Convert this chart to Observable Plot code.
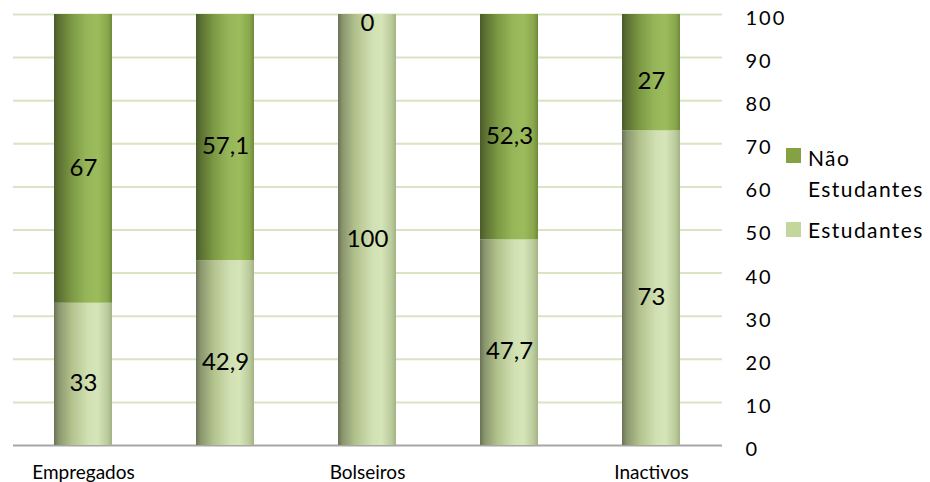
<!DOCTYPE html>
<html><head><meta charset="utf-8">
<script src="https://cdn.jsdelivr.net/npm/d3@7"></script>
<script src="https://cdn.jsdelivr.net/npm/@observablehq/plot@0.6"></script>
<style>
body{margin:0;background:#fff;font-family:Lato, sans-serif}
#wrap{position:relative;width:930px;height:482px;overflow:hidden}
.sw{position:absolute;width:15px;height:15px}
.lt{position:absolute;font-size:21px;line-height:31px;color:#000;white-space:nowrap;letter-spacing:1.4px}
</style></head>
<body><div id="wrap"></div>
<script>
const categories = ["Empregados", "Desempregados", "Bolseiros", "Reformados", "Inactivos"];
const shownTicks = ["Empregados", "Bolseiros", "Inactivos"];
const series = ["Estudantes", "Não Estudantes"];
const estudantes = [33, 42.9, 100, 47.7, 73];
const naoEstudantes = [67, 57.1, 0, 52.3, 27];
const yTicks = [0, 10, 20, 30, 40, 50, 60, 70, 80, 90, 100];

const data = [
  ...categories.map((c, i) => ({cat: c, serie: series[0], value: estudantes[i]})),
  ...categories.map((c, i) => ({cat: c, serie: series[1], value: naoEstudantes[i]}))
];
const fmt = v => String(v).replace(".", ",");

const chart = Plot.plot({
  width: 930, height: 482,
  marginLeft: 13, marginRight: 208, marginTop: 14, marginBottom: 37,
  style: {fontFamily: "Lato, sans-serif", background: "#fff", color: "#000"},
  x: {domain: categories, paddingInner: 0.59, paddingOuter: 0.29, label: null},
  y: {domain: [0, 100], label: null},
  color: {domain: series, range: ["url(#gLight)", "url(#gDark)"]},
  marks: [
    Plot.ruleY(yTicks.filter(d => d > 0), {y: d => d, stroke: "#d9e4c3", strokeWidth: 2}),
    Plot.ruleY([0], {stroke: "#a6a6a6", strokeWidth: 2}),
    Plot.barY(data, Plot.stackY({x: "cat", y: "value", fill: "serie", order: series})),
    Plot.text(data, Plot.stackY({x: "cat", y: "value", z: "serie", order: series,
      text: d => fmt(d.value), fontSize: 24, fill: "#000", dy: 9})),
    Plot.axisX({ticks: shownTicks, tickSize: 0, tickPadding: 20, fontSize: 19, label: null}),
    Plot.axisY({anchor: "right", ticks: yTicks, tickSize: 0, tickPadding: 23, fontSize: 20, dy: 4, label: null})
  ]
});

chart.querySelectorAll('[aria-label="y-axis tick label"] text').forEach(t => t.style.letterSpacing = "2px");

const ns = "http://www.w3.org/2000/svg";
const defs = document.createElementNS(ns, "defs");
defs.innerHTML = `
<linearGradient id="gDark" x1="0" y1="0" x2="1" y2="0">
  <stop offset="0" stop-color="#4b5a2c"/>
  <stop offset="0.08" stop-color="#5b6f32"/>
  <stop offset="0.3" stop-color="#7b9843"/>
  <stop offset="0.55" stop-color="#96b559"/>
  <stop offset="0.75" stop-color="#9cbc5c"/>
  <stop offset="0.92" stop-color="#8aa84c"/>
  <stop offset="1" stop-color="#6f8a3b"/>
</linearGradient>
<linearGradient id="gLight" x1="0" y1="0" x2="1" y2="0">
  <stop offset="0" stop-color="#6a7158"/>
  <stop offset="0.08" stop-color="#8a966d"/>
  <stop offset="0.3" stop-color="#b2c28d"/>
  <stop offset="0.6" stop-color="#d2e1b3"/>
  <stop offset="0.75" stop-color="#d6e5b8"/>
  <stop offset="0.92" stop-color="#bccb9c"/>
  <stop offset="1" stop-color="#a3b283"/>
</linearGradient>`;
chart.insertBefore(defs, chart.firstChild);

const wrap = document.getElementById("wrap");
wrap.appendChild(chart);

function add(html, cls, left, top) {
  const el = document.createElement("div");
  el.className = cls;
  el.style.left = left + "px";
  el.style.top = top + "px";
  el.innerHTML = html;
  wrap.appendChild(el);
  return el;
}
add("", "sw", 786, 148).style.background = "#84a244";
add("Não<br>Estudantes", "lt", 808, 142);
add("", "sw", 786, 222).style.background = "#c3d69b";
add("Estudantes", "lt", 808, 214);
</script>
</body></html>
